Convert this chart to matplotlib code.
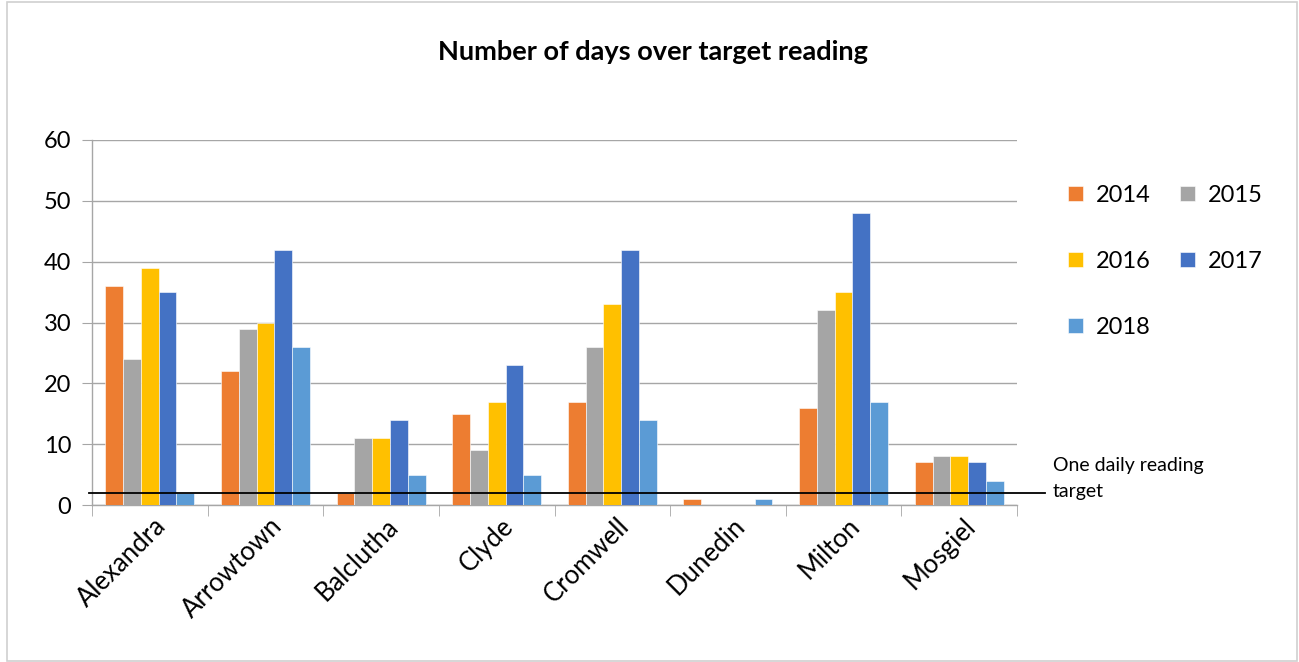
import matplotlib
matplotlib.use("Agg")
import matplotlib.pyplot as plt
import matplotlib.transforms as mtransforms
import numpy as np
from matplotlib.patches import Rectangle

categories = ["Alexandra", "Arrowtown", "Balclutha", "Clyde", "Cromwell", "Dunedin", "Milton", "Mosgiel"]
years = ["2014", "2015", "2016", "2017", "2018"]
v2014 = [36, 22, 2, 15, 17, 1, 16, 7]
v2015 = [24, 29, 11, 9, 26, 0, 32, 8]
v2016 = [39, 30, 11, 17, 33, 0, 35, 8]
v2017 = [35, 42, 14, 23, 42, 0, 48, 7]
v2018 = [2, 26, 5, 5, 14, 1, 17, 4]
target = 2
series = [v2014, v2015, v2016, v2017, v2018]
colors = ["#ED7D31", "#A5A5A5", "#FFC000", "#4472C4", "#5B9BD5"]

plt.rcParams['font.family'] = ['Lato', 'DejaVu Sans']

W, H = 1299, 662
fig = plt.figure(figsize=(W/100, H/100), dpi=100)
fig.patches.append(Rectangle((7/W, 1/H), 1290/W, 659/H, transform=fig.transFigure,
                             fill=False, edgecolor="#D0D0D0", linewidth=1.2))
ax = fig.add_axes([92/W, 1-505/H, 925/W, 365/H])

n = len(series)
bw = 1/6.5
x = np.arange(len(categories))
handles = []
for i, (vals, c) in enumerate(zip(series, colors)):
    b = ax.bar(x + (i - (n-1)/2)*bw, vals, width=bw, color=c, edgecolor="white",
               linewidth=0.4, label=years[i], zorder=3)
    handles.append(b)

ax.set_xlim(-0.5, len(categories)-0.5)
ax.set_ylim(0, 60)
ax.set_yticks(range(0, 61, 10))
ax.yaxis.grid(True, color="#A6A6A6", linewidth=1, zorder=0)
ax.set_axisbelow(True)
for s in ["top", "right"]:
    ax.spines[s].set_visible(False)
for s in ["left", "bottom"]:
    ax.spines[s].set_color("#A6A6A6")
    ax.spines[s].set_linewidth(1)
ax.tick_params(axis="y", length=7, color="#A6A6A6", labelsize=17, pad=8, labelcolor="black")
ax.set_xticks(x)
ax.set_xticklabels(categories, rotation=45, ha="right", va="top", rotation_mode="anchor", fontsize=18.5)
ax.tick_params(axis="x", which="major", length=0, pad=6)
offset = mtransforms.ScaledTranslation(4/100, 0, fig.dpi_scale_trans)
for lab in ax.get_xticklabels():
    lab.set_transform(lab.get_transform() + offset)
ax.set_xticks(np.arange(-0.5, len(categories), 1), minor=True)
ax.tick_params(axis="x", which="minor", length=8, color="#A6A6A6")

# target line
tr = ax.get_yaxis_transform()
ax.plot([-0.003, 1.030], [target, target], color="black", linewidth=1.3, transform=tr,
        clip_on=False, zorder=5)
fig.text(1053/W, 1-466/H, "One daily reading", ha="left", va="center", fontsize=14)
fig.text(1053/W, 1-492/H, "target", ha="left", va="center", fontsize=14)

fig.text(653/W, 1-52/H, "Number of days over target reading", ha="center", va="center",
         fontsize=19.5, fontweight="bold")

order = [0, 2, 4, 1, 3]
leg = ax.legend([handles[i] for i in order], [years[i] for i in order], ncol=2,
                loc="upper left", bbox_to_anchor=(1.0326, 0.936), frameon=False,
                fontsize=17, handlelength=0.6, handleheight=0.6, handletextpad=0.55,
                columnspacing=1.27, labelspacing=1.92)

fig.savefig("out.png", dpi=100)
